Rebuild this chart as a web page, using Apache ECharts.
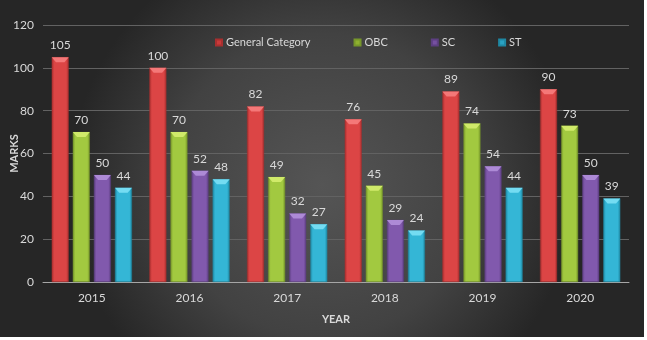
<!DOCTYPE html>
<html>
<head>
<meta charset="utf-8">
<script src="https://cdn.jsdelivr.net/npm/echarts@6/dist/echarts.min.js"></script>
<style>
html,body{margin:0;padding:0;background:#ffffff;}
#c{width:644px;height:337px;}
</style>
</head>
<body>
<div id="c"></div>
<script>
const years = ['2015','2016','2017','2018','2019','2020'];
const seriesNames = ['General Category','OBC','SC','ST'];
const generalCategory = [105,100,82,76,89,90];
const obc = [70,70,49,45,74,73];
const sc = [50,52,32,29,54,50];
const st = [44,48,27,24,44,39];
const yTicks = [0,20,40,60,80,100,120];

const values = [generalCategory, obc, sc, st];
const palette = [
  {main:'#dc4545', edge:'#a82f2f', cap:'#f47878', legend:'#c83a3a'},
  {main:'#a2c940', edge:'#77972a', cap:'#d0ea6a', legend:'#8fb030'},
  {main:'#8159ad', edge:'#5d3f82', cap:'#ad8ad6', legend:'#7650a0'},
  {main:'#34b6d6', edge:'#1f88a3', cap:'#74dcf2', legend:'#2aa2c2'}
];
const FONT = 'Lato';
const barW = 17;

function hgrad(p){
  return {type:'linear',x:0,y:0,x2:1,y2:0,colorStops:[
    {offset:0,color:p.edge},{offset:0.15,color:p.main},{offset:0.85,color:p.main},{offset:1,color:p.edge}]};
}

const series = [];
values.forEach((arr,i)=>{
  series.push({
    name: seriesNames[i],
    type:'bar',
    xAxisIndex:0,
    data: arr,
    barWidth: barW,
    barGap:'24%',
    barCategoryGap:'18%',
    itemStyle:{color:hgrad(palette[i]), borderColor: palette[i].edge, borderWidth:0.5},
    label:{show:true, position:'top', distance:6, color:'#d9d9d9', fontFamily:FONT, fontSize:12},
    z:2
  });
});
values.forEach((arr,i)=>{
  series.push({
    name: seriesNames[i],
    type:'pictorialBar',
    xAxisIndex:1,
    data: arr,
    symbol:'path://M0,0 L10,0 L7.5,3 L2.5,3 Z',
    symbolSize:[barW,5],
    symbolPosition:'end',
    barWidth: barW,
    barGap:'24%',
    barCategoryGap:'18%',
    itemStyle:{color:palette[i].cap},
    silent:true,
    z:3
  });
});

const chart = echarts.init(document.getElementById('c'));
chart.setOption({
  animation:false,
  backgroundColor:{type:'radial',x:0.5,y:0.55,r:0.75,colorStops:[
    {offset:0,color:'#555555'},{offset:0.6,color:'#424242'},{offset:1,color:'#262626'}]},
  textStyle:{fontFamily:FONT},
  legend:{
    data: seriesNames.map((n,i)=>({name:n, itemStyle:{color:palette[i].legend}})),
    left:215, top:37, padding:0,
    itemWidth:6, itemHeight:6, itemGap:43,
    icon:'rect',
    textStyle:{color:'#d9d9d9', fontFamily:FONT, fontSize:11, padding:[0,0,0,-1]}
  },
  grid:{left:43, right:15, top:25, bottom:55, containLabel:false, outerBoundsMode:'none'},
  xAxis:[{
    type:'category', data: years,
    name:'YEAR', nameLocation:'middle', nameGap:32, nameMoveOverlap:false,
    nameTextStyle:{color:'#d9d9d9', fontWeight:'bold', fontSize:11, fontFamily:FONT},
    axisLine:{lineStyle:{color:'#a6a6a6', width:1}},
    axisTick:{show:false},
    axisLabel:{color:'#d9d9d9', fontSize:12, margin:10, fontFamily:FONT}
  },{
    type:'category', data: years, show:false
  }],
  yAxis:{
    type:'value', min:yTicks[0], max:yTicks[yTicks.length-1], interval:20,
    name:'MARKS', nameLocation:'middle', nameGap:23, nameRotate:90, nameMoveOverlap:false,
    nameTextStyle:{color:'#d9d9d9', fontWeight:'bold', fontSize:11, fontFamily:FONT},
    axisLine:{show:false}, axisTick:{show:false},
    axisLabel:{color:'#d9d9d9', fontSize:12, margin:9, fontFamily:FONT},
    splitLine:{lineStyle:{color:'#626262', width:1}}
  },
  series: series
});
</script>
</body>
</html>
